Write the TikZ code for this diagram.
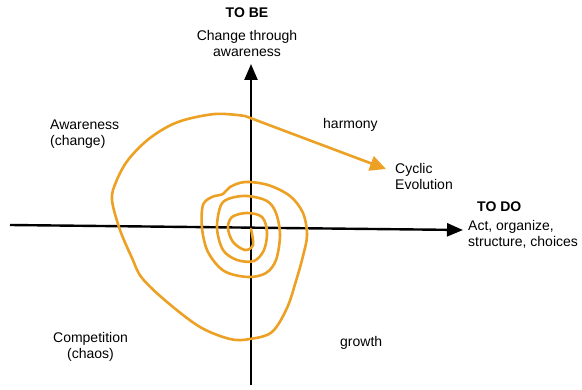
\documentclass[tikz,border=0pt]{standalone}
\usepackage{fontspec}
\setmainfont{Liberation Sans}
\usetikzlibrary{arrows.meta}
\definecolor{spiralorange}{RGB}{236,160,36}

\tikzset{
  axis/.style={line width=2.4pt, -{Triangle[length=16pt,width=13pt]}},
  spiral/.style={line width=2.6pt, spiralorange, line cap=round, line join=round,
    -{Triangle[length=16pt,width=15pt]}},
  lbl/.style={inner sep=0pt, font=\fontsize{14}{15.5}\selectfont},
  head/.style={lbl, font=\fontsize{14}{15.5}\selectfont\bfseries}
}

\begin{document}
\begin{tikzpicture}[x=1pt, y=-1pt]
    \useasboundingbox (0,0) rectangle (582,390);
    \coordinate (xl) at (10,225);
    \coordinate (xr) at (463,230);
    \coordinate (yb) at (251,385);
    \coordinate (yt) at (251,64);
    \coordinate (tip) at (386,169);
    \draw[axis] (xl) -- (xr);
    \draw[axis] (yb) -- (yt);
    \draw[spiral] plot[smooth, tension=0.55] coordinates {
      (251,229) (253,245) (245,250) (233,242) (228,228) (232,217) (247,213)
      (262,217) (267,232) (264,250) (254,261) (237,260) (223,250) (217,228)
      (221,205) (231,198) (248,196) (267,201) (276,213) (280,235) (276,260)
      (266,273) (248,277) (224,271) (208,252) (202,228) (203,205) (212,197)
      (223,194) (230,187) (245,182) (268,185) (290,196) (303,213) (307,235)
      (303,256) (296,281) (287,308) (272,332) (250,339) (230,339) (200,327)
      (167,302) (142,278) (132,258) (120,230) (112,200) (116,182) (128,160)
      (150,138) (178,122) (215,114) (245,116)} -- (tip);
    \node[head, anchor=base] (tobe) at (247,18) {TO BE};
    \node[lbl, anchor=base, align=center] (tobetxt) at (247,56.5) {Change through\\awareness};
    \node[head, anchor=base west] (todo) at (477,212) {TO DO};
    \node[lbl, anchor=base west, align=left] (todotxt) at (468,246.5) {Act, organize,\\structure, choices};
    \node[lbl, anchor=base west] (harmony) at (323,129) {harmony};
    \node[lbl, anchor=base west, align=left] (awareness) at (50,145.5) {Awareness\\(change)};
    \node[lbl, anchor=base west, align=left] (cyclic) at (395,189.5) {Cyclic\\Evolution};
    \node[lbl, anchor=base, align=center] (competition) at (90.5,358.5) {Competition\\(chaos)};
    \node[lbl, anchor=base west] (growth) at (340,347) {growth};
  \end{tikzpicture}
\end{document}
